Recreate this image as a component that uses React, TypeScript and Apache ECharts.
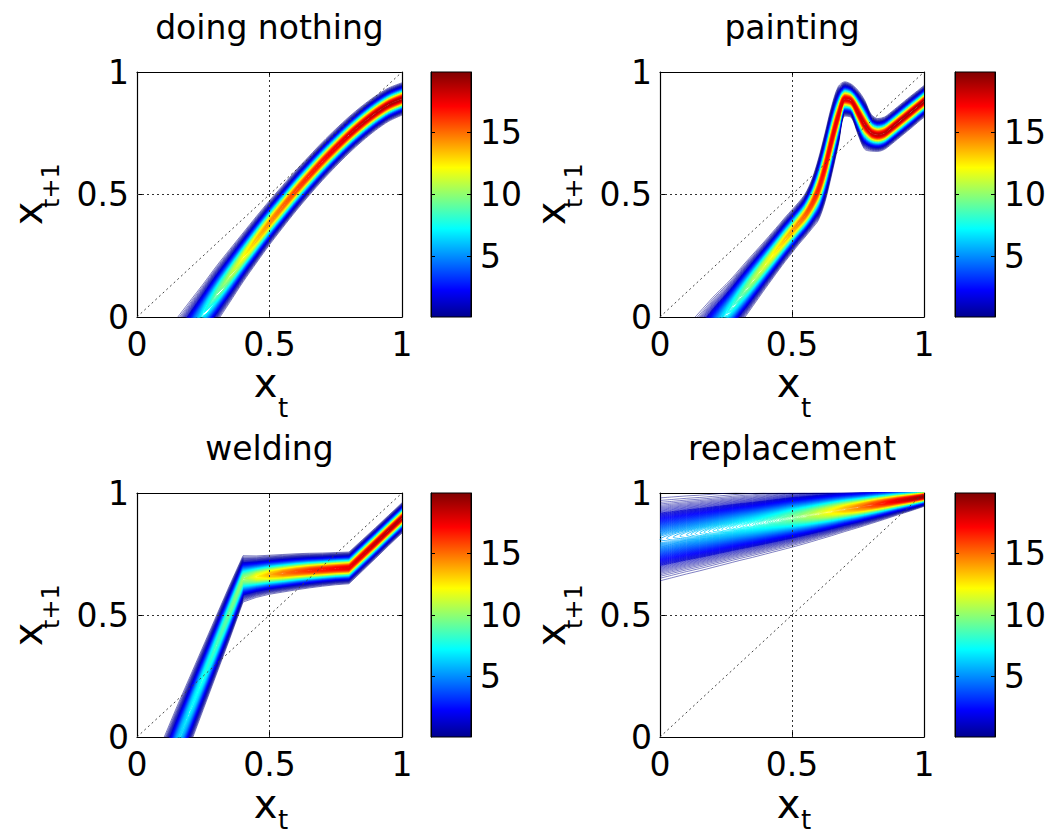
import React, { useEffect, useRef } from "react";
import * as echarts from "echarts";

// ---------- data ----------
const titles = ["doing nothing", "painting", "welding", "replacement"];
const colorbarTicks = [5, 10, 15];
const colorMin = 0.1;
const colorMax = 19.9;
const levelMin = 0.2;
const levelStep = 0.1;
const levelCount = 197;
const identityLine = [[0, 0], [1, 1]];

// doing nothing: ridge position, peak density, outer half-width (vertical)
const nothingX = [0.1, 0.15, 0.2, 0.25, 0.3, 0.35, 0.4, 0.45, 0.5, 0.55, 0.6, 0.65, 0.7, 0.75, 0.8, 0.85, 0.9, 0.95, 1];
const nothingMean = [-0.229, -0.146, -0.065, 0.015, 0.093, 0.168, 0.243, 0.315, 0.385, 0.451, 0.516, 0.577, 0.636, 0.691, 0.743, 0.79, 0.832, 0.867, 0.89];
const nothingPeak = [3.5, 4.5, 5.8, 7.5, 9.5, 11, 12.5, 13.8, 14.8, 15.6, 16.3, 16.9, 17.4, 17.9, 18.3, 18.6, 18.8, 19, 19.1];
const nothingWidth = [0.15, 0.14, 0.13, 0.12, 0.115, 0.108, 0.1, 0.095, 0.09, 0.086, 0.083, 0.08, 0.078, 0.076, 0.074, 0.072, 0.07, 0.068, 0.066];

// painting
const paintX = [0.1, 0.125, 0.15, 0.175, 0.2, 0.225, 0.25, 0.275, 0.3, 0.325, 0.35, 0.375, 0.4, 0.425, 0.45, 0.475, 0.5, 0.525, 0.55, 0.575, 0.6, 0.625, 0.65, 0.675, 0.7, 0.725, 0.75, 0.775, 0.8, 0.825, 0.85, 0.875, 0.9, 0.925, 0.95, 0.975, 1];
const paintMean = [-0.19, -0.155, -0.12, -0.085, -0.05, -0.018, 0.013, 0.045, 0.08, 0.114, 0.148, 0.182, 0.216, 0.25, 0.284, 0.318, 0.35, 0.382, 0.415, 0.46, 0.52, 0.61, 0.72, 0.82, 0.89, 0.882, 0.835, 0.785, 0.752, 0.743, 0.75, 0.77, 0.792, 0.814, 0.836, 0.858, 0.88];
const paintPeak = [3.5, 4, 4.5, 5, 5.8, 6.6, 7.5, 8.3, 9, 9.9, 10.7, 11.4, 12, 12.6, 13.2, 13.8, 14.3, 15, 15.7, 16.4, 17, 17.5, 17.8, 18, 18.2, 18.3, 18.4, 18.5, 18.6, 18.7, 18.8, 18.9, 19, 19, 19.1, 19.1, 19.2];
const paintWidth = [0.15, 0.145, 0.14, 0.135, 0.13, 0.125, 0.12, 0.117, 0.113, 0.11, 0.106, 0.102, 0.098, 0.095, 0.092, 0.09, 0.088, 0.086, 0.088, 0.1, 0.125, 0.14, 0.14, 0.12, 0.07, 0.068, 0.09, 0.1, 0.075, 0.067, 0.066, 0.066, 0.066, 0.066, 0.066, 0.065, 0.065];

// welding
const weldX = [0.05, 0.1, 0.15, 0.2, 0.25, 0.3, 0.35, 0.4, 0.45, 0.5, 0.55, 0.6, 0.65, 0.7, 0.75, 0.8, 0.85, 0.9, 0.95, 1];
const weldMean = [-0.297, -0.162, -0.027, 0.108, 0.243, 0.378, 0.513, 0.648, 0.657, 0.665, 0.671, 0.677, 0.682, 0.686, 0.69, 0.693, 0.744, 0.795, 0.847, 0.898];
const weldPeak = [4.5, 5.5, 6.5, 7.3, 8, 8.8, 9.6, 10.5, 12.5, 14, 15.2, 16, 16.7, 17.2, 17.6, 18, 18.4, 18.7, 18.9, 19];
const weldWidth = [0.16, 0.155, 0.15, 0.14, 0.13, 0.12, 0.11, 0.095, 0.085, 0.08, 0.077, 0.074, 0.071, 0.068, 0.066, 0.065, 0.064, 0.063, 0.062, 0.062];

// replacement
const replX = [0, 0.05, 0.1, 0.15, 0.2, 0.25, 0.3, 0.35, 0.4, 0.45, 0.5, 0.55, 0.6, 0.65, 0.7, 0.75, 0.8, 0.85, 0.9, 0.95, 1];
const replMean = [0.81, 0.819, 0.828, 0.836, 0.845, 0.854, 0.863, 0.871, 0.88, 0.889, 0.898, 0.906, 0.915, 0.924, 0.933, 0.941, 0.95, 0.959, 0.968, 0.976, 0.985];
const replPeak = [5.8, 6, 6.2, 6.5, 6.8, 7.1, 7.5, 7.9, 8.4, 9, 9.8, 10.7, 11.7, 12.8, 13.9, 15, 16.2, 17.2, 18.1, 18.8, 19.5];
const replWidth = [0.17, 0.165, 0.16, 0.155, 0.15, 0.145, 0.14, 0.135, 0.13, 0.125, 0.12, 0.113, 0.106, 0.099, 0.091, 0.083, 0.075, 0.067, 0.058, 0.049, 0.04];

// ---------- helpers ----------
const FONT = "'DejaVu Sans', sans-serif";

const panels = [
  { title: titles[0], xs: nothingX, mean: nothingMean, peak: nothingPeak, width: nothingWidth, smooth: 0.3 as number | boolean },
  { title: titles[1], xs: paintX, mean: paintMean, peak: paintPeak, width: paintWidth, smooth: 0.3 as number | boolean },
  { title: titles[2], xs: weldX, mean: weldMean, peak: weldPeak, width: weldWidth, smooth: false as number | boolean },
  { title: titles[3], xs: replX, mean: replMean, peak: replPeak, width: replWidth, smooth: 0.3 as number | boolean },
];

const colLeft = [137, 660];
const colWidth = [265, 264];
const rowTop = [72, 493];
const rowHeight = [245, 244];
const cbLeft = [431, 955];
const cbWidth = 40;
const titleY = [27.5, 448];
const xLabelY = [383, 804];
const xSubY = [408, 820];

function jetColor(v: number): string {
  const t = Math.min(1, Math.max(0, (v - colorMin) / (colorMax - colorMin)));
  const c = (a: number) => Math.round(255 * Math.min(1, Math.max(0, a)));
  const r = c(Math.min(4 * t - 1.5, -4 * t + 4.5));
  const g = c(Math.min(4 * t - 0.5, -4 * t + 3.5));
  const b = c(Math.min(4 * t + 0.5, -4 * t + 2.5));
  return `rgb(${r},${g},${b})`;
}

const jetStops = [
  { offset: 0, color: "#00008F" },
  { offset: 0.11, color: "#0000FF" },
  { offset: 0.36, color: "#00FFFF" },
  { offset: 0.61, color: "#FFFF00" },
  { offset: 0.86, color: "#FF0000" },
  { offset: 1, color: "#800000" },
];

function contourLevel(xs: number[], mean: number[], peak: number[], width: number[], L: number) {
  const out: any[] = [];
  const n = xs.length;
  const off = (k: number) =>
    width[k] * Math.sqrt(Math.log(peak[k] / L) / Math.log(peak[k] / levelMin));
  const tip = (a: number, b: number) => {
    const t = (L - peak[a]) / (peak[b] - peak[a]);
    return [xs[a] + t * (xs[b] - xs[a]), mean[a] + t * (mean[b] - mean[a])];
  };
  let i = 0;
  while (i < n) {
    if (peak[i] <= L) {
      i++;
      continue;
    }
    let j = i;
    while (j + 1 < n && peak[j + 1] > L) j++;
    const leftTip = i > 0 ? tip(i - 1, i) : null;
    const rightTip = j < n - 1 ? tip(j, j + 1) : null;
    const upper: number[][] = [];
    const lower: number[][] = [];
    for (let k = i; k <= j; k++) {
      const d = off(k);
      upper.push([xs[k], mean[k] + d]);
      lower.push([xs[k], mean[k] - d]);
    }
    const lowerRev = lower.slice().reverse();
    if (leftTip && rightTip) {
      out.push(leftTip, ...upper, rightTip, ...lowerRev, leftTip);
    } else if (leftTip) {
      out.push(...lowerRev, leftTip, ...upper);
    } else if (rightTip) {
      out.push(...upper, rightTip, ...lowerRev);
    } else {
      out.push(...upper, ["-", "-"], ...lower);
    }
    out.push(["-", "-"]);
    i = j + 1;
  }
  return out;
}

function buildOption() {
  const grid: any[] = [];
  const xAxis: any[] = [];
  const yAxis: any[] = [];
  const series: any[] = [];
  const graphic: any[] = [];

  const levels: number[] = [];
  for (let k = 0; k < levelCount; k++) levels.push(+(levelMin + k * levelStep).toFixed(2));

  panels.forEach((p, idx) => {
    const col = idx % 2;
    const row = Math.floor(idx / 2);
    const left = colLeft[col];
    const top = rowTop[row];
    const w = colWidth[col];
    const h = rowHeight[row];
    const dx = colLeft[col] - colLeft[0];
    const dy = rowTop[row] - rowTop[0];

    const gPlot = grid.length;
    grid.push({ left, top, width: w, height: h, containLabel: false });
    const gBar = grid.length;
    grid.push({ left: cbLeft[col], top, width: cbWidth, height: h, containLabel: false });

    const axisLine = { show: true, onZero: false, lineStyle: { color: "#000", width: 1.2 } };
    const tick = { show: true, inside: true, length: 5, lineStyle: { color: "#000", width: 1 } };
    const label = { fontSize: 33, fontFamily: FONT, color: "#000", showMinLabel: true, showMaxLabel: true };

    const xBottom = xAxis.length;
    xAxis.push({
      gridIndex: gPlot, type: "value", min: 0, max: 1, interval: 0.5, position: "bottom",
      axisLine, axisTick: tick, axisLabel: { ...label, margin: 11 }, splitLine: { show: false },
    });
    xAxis.push({
      gridIndex: gPlot, type: "value", min: 0, max: 1, interval: 0.5, position: "top",
      axisLine, axisTick: tick, axisLabel: { show: false }, splitLine: { show: false },
    });
    const yLeft = yAxis.length;
    yAxis.push({
      gridIndex: gPlot, type: "value", min: 0, max: 1, interval: 0.5, position: "left",
      axisLine, axisTick: tick, axisLabel: { ...label, margin: 8 }, splitLine: { show: false },
    });
    yAxis.push({
      gridIndex: gPlot, type: "value", min: 0, max: 1, interval: 0.5, position: "right",
      axisLine, axisTick: tick, axisLabel: { show: false }, splitLine: { show: false },
    });

    // colorbar axes
    xAxis.push({ gridIndex: gBar, type: "value", min: 0, max: 1, show: false });
    yAxis.push({
      gridIndex: gBar, type: "value", min: colorMin, max: colorMax, position: "right",
      axisLine: { show: true, onZero: false, lineStyle: { color: "#000", width: 1 } },
      axisTick: { show: true, inside: true, length: 4, customValues: colorbarTicks, lineStyle: { color: "#000" } },
      axisLabel: { ...label, margin: 9, customValues: colorbarTicks },
      splitLine: { show: false },
    });
    yAxis.push({
      gridIndex: gBar, type: "value", min: colorMin, max: colorMax, position: "left",
      axisLine: { show: true, onZero: false, lineStyle: { color: "#000", width: 1 } },
      axisTick: { show: true, inside: true, length: 4, customValues: colorbarTicks, lineStyle: { color: "#000" } },
      axisLabel: { show: false },
      splitLine: { show: false },
    });

    // contour levels, low to high
    levels.forEach((L) => {
      const data = contourLevel(p.xs, p.mean, p.peak, p.width, L);
      if (!data.length) return;
      series.push({
        type: "line",
        xAxisIndex: xBottom,
        yAxisIndex: yLeft,
        data,
        showSymbol: false,
        symbol: "none",
        smooth: p.smooth,
        connectNulls: false,
        clip: true,
        silent: true,
        lineStyle: { color: jetColor(L), width: L < 1.5 ? 0.5 : 0.8 },
        z: 2,
      });
    });

    // identity diagonal + grid lines on top
    series.push({
      type: "line",
      xAxisIndex: xBottom,
      yAxisIndex: yLeft,
      data: identityLine,
      showSymbol: false,
      symbol: "none",
      silent: true,
      lineStyle: { color: "#444", width: 1, type: [2, 3] },
      z: 3,
      markLine: {
        silent: true,
        symbol: ["none", "none"],
        label: { show: false },
        lineStyle: { color: "#333", width: 1, type: [2, 3] },
        data: [{ xAxis: 0.5 }, { yAxis: 0.5 }],
      },
    });

    // colorbar gradient
    graphic.push({
      type: "rect",
      z: -1,
      shape: { x: cbLeft[col], y: top, width: cbWidth, height: h },
      style: {
        fill: { type: "linear", x: 0, y: 1, x2: 0, y2: 0, colorStops: jetStops },
        stroke: "#000",
        lineWidth: 1,
      },
    });

    // title
    const cx = left + w / 2;
    graphic.push({
      type: "text",
      x: cx,
      y: titleY[row],
      style: {
        text: p.title, fontSize: 33, fontFamily: "DejaVu Sans", fill: "#000",
        align: "center", verticalAlign: "middle", textAlign: "center", textVerticalAlign: "middle",
      },
    });
    // x label
    graphic.push({
      type: "text",
      x: 265.5 + dx,
      y: xLabelY[row],
      style: {
        text: "x", fontSize: 40, fontFamily: "DejaVu Sans", fill: "#000",
        align: "center", verticalAlign: "middle", textAlign: "center", textVerticalAlign: "middle",
      },
    });
    graphic.push({
      type: "text",
      x: 278 + dx,
      y: xSubY[row],
      style: {
        text: "t", fontSize: 26, fontFamily: "DejaVu Sans", fill: "#000",
        align: "left", verticalAlign: "middle", textAlign: "left", textVerticalAlign: "middle",
      },
    });
    // y label (rotated)
    graphic.push({
      type: "text",
      x: 28 + dx,
      y: 213.5 + dy,
      rotation: Math.PI / 2,
      style: {
        text: "x", fontSize: 40, fontFamily: "DejaVu Sans", fill: "#000",
        align: "center", verticalAlign: "middle", textAlign: "center", textVerticalAlign: "middle",
      },
    });
    graphic.push({
      type: "text",
      x: 51 + dx,
      y: 208 + dy,
      rotation: Math.PI / 2,
      style: {
        text: "t+1", fontSize: 24, fontFamily: "DejaVu Sans", fill: "#000",
        align: "left", verticalAlign: "middle", textAlign: "left", textVerticalAlign: "middle",
      },
    });
  });

  return {
    animation: false,
    backgroundColor: "#fff",
    grid,
    xAxis,
    yAxis,
    series,
    graphic: { elements: graphic },
  };
}

export default function App() {
  const ref = useRef<HTMLDivElement>(null);
  useEffect(() => {
    document.body.style.margin = "0";
    document.body.style.overflow = "hidden";
    if (!ref.current) return;
    const chart = echarts.init(ref.current, null, { renderer: "svg" });
    chart.setOption(buildOption());
    return () => chart.dispose();
  }, []);
  return <div ref={ref} style={{ width: 1054, height: 838 }} />;
}
